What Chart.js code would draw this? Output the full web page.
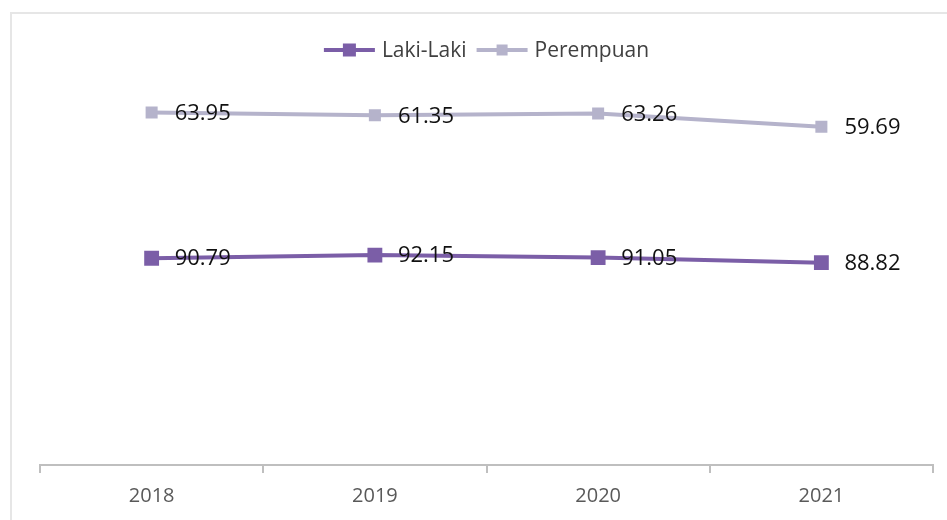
<!DOCTYPE html>
<html>
<head>
<meta charset="utf-8">
<script src="https://cdn.jsdelivr.net/npm/chart.js@4/dist/chart.umd.min.js"></script>
<style>
  html, body { margin: 0; padding: 0; background: #ffffff; }
  #wrap { width: 947px; height: 520px; position: relative; }
</style>
</head>
<body>
<div id="wrap"><canvas id="c" width="947" height="520"></canvas></div>
<script>
const categories = ['2018', '2019', '2020', '2021'];
const lakiLaki = [90.79, 92.15, 91.05, 88.82];
const perempuan = [63.95, 61.35, 63.26, 59.69];
const seriesNames = ['Laki-Laki', 'Perempuan'];

const colLaki = '#7b5ea7';
const colPer = '#b5b3cb';
const FONT = "'Open Sans', 'Liberation Sans', sans-serif";

const frameAndLegend = {
  id: 'frameAndLegend',
  beforeDraw(chart) {
    const ctx = chart.ctx;
    ctx.save();
    ctx.fillStyle = '#ffffff';
    ctx.fillRect(0, 0, chart.width, chart.height);
    ctx.strokeStyle = '#e6e6e6';
    ctx.lineWidth = 2;
    ctx.beginPath();
    ctx.moveTo(11, chart.height);
    ctx.lineTo(11, 13);
    ctx.lineTo(chart.width, 13);
    ctx.stroke();
    ctx.restore();
  },
  afterDraw(chart) {
    const ctx = chart.ctx;
    const ca = chart.chartArea;
    ctx.save();
    ctx.font = '21px ' + FONT;
    ctx.textBaseline = 'middle';
    const lineLen = 51, gapA = 7, gapB = 10;
    const items = chart.data.datasets.map(ds => ({
      label: ds.label, color: ds.borderColor, side: ds.legendSide,
      w: ctx.measureText(ds.label).width
    }));
    let total = 0;
    items.forEach((it, i) => { total += lineLen + gapA + it.w + (i < items.length - 1 ? gapB : 0); });
    let x = (ca.left + ca.right) / 2 - total / 2;
    const y = 50;
    items.forEach(it => {
      ctx.strokeStyle = it.color;
      ctx.lineWidth = 4;
      ctx.beginPath();
      ctx.moveTo(x, y);
      ctx.lineTo(x + lineLen, y);
      ctx.stroke();
      ctx.fillStyle = it.color;
      ctx.fillRect(x + lineLen / 2 - it.side / 2, y - it.side / 2, it.side, it.side);
      x += lineLen + gapA;
      ctx.fillStyle = '#404040';
      ctx.textAlign = 'left';
      ctx.fillText(it.label, x, y + 1);
      x += it.w + gapB;
    });
    ctx.restore();
  },
  afterDatasetsDraw(chart) {
    const ctx = chart.ctx;
    ctx.save();
    ctx.font = '22px ' + FONT;
    ctx.fillStyle = '#111111';
    ctx.textAlign = 'left';
    ctx.textBaseline = 'middle';
    chart.data.datasets.forEach((ds, di) => {
      const meta = chart.getDatasetMeta(di);
      meta.data.forEach((pt, i) => {
        ctx.fillText(ds.data[i].toFixed(2), pt.x + 23, pt.y + 1);
      });
    });
    ctx.restore();
  }
};

new Chart(document.getElementById('c'), {
  type: 'line',
  data: {
    labels: categories,
    datasets: [
      {
        label: seriesNames[0],
        data: lakiLaki,
        borderColor: colLaki,
        backgroundColor: colLaki,
        borderWidth: 4,
        pointStyle: 'rect',
        pointRadius: 10.5,
        pointBorderWidth: 0,
        pointBackgroundColor: colLaki,
        fill: false,
        tension: 0,
        legendSide: 13
      },
      {
        label: seriesNames[1],
        data: perempuan,
        borderColor: colPer,
        backgroundColor: colPer,
        borderWidth: 4,
        pointStyle: 'rect',
        pointRadius: 8.5,
        pointBorderWidth: 0,
        pointBackgroundColor: colPer,
        fill: false,
        tension: 0,
        legendSide: 11
      }
    ]
  },
  options: {
    responsive: false,
    animation: false,
    devicePixelRatio: 1,
    layout: { padding: { left: 40, right: 14, top: 55, bottom: 1 } },
    plugins: {
      legend: { display: false },
      tooltip: { enabled: false },
      title: { display: false }
    },
    scales: {
      x: {
        type: 'category',
        offset: true,
        grid: {
          offset: true,
          drawOnChartArea: false,
          drawTicks: true,
          tickLength: 8,
          color: '#bfbfbf',
          lineWidth: 2
        },
        border: { display: true, color: '#bfbfbf', width: 2 },
        ticks: {
          color: '#595959',
          font: { family: FONT, size: 20 },
          padding: 11
        }
      },
      y: {
        display: false,
        stacked: true,
        min: 0,
        max: 180
      }
    }
  },
  plugins: [frameAndLegend]
});
</script>
</body>
</html>
